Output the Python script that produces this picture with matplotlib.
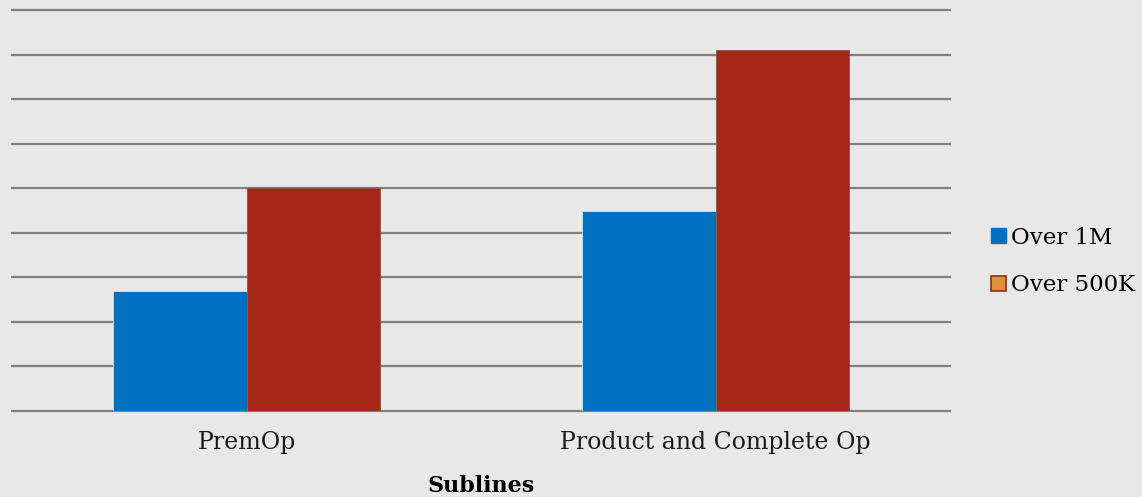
import numpy as np
import matplotlib.pyplot as plt
from matplotlib.patches import Patch

categories = ["PremOp", "Product and Complete Op"]
over_1m = [2.7, 4.48]
over_500k = [5.0, 8.1]

serif = ["DejaVu Serif"]
bg = "#e8e8e8"
fig = plt.figure(figsize=(11.42, 4.97), dpi=100, facecolor=bg)
ax = fig.add_axes([0.0105, 0.173, 0.8215, 0.807], facecolor=bg)

x = np.arange(len(categories))
w = 0.285
ax.bar(x - w / 2, over_1m, w, color="#0070c0", edgecolor="#d8e4ee", linewidth=0.6, zorder=3)
ax.bar(x + w / 2, over_500k, w, color="#a52718", edgecolor="#7a5a55", linewidth=0.6, zorder=3)

ax.set_xlim(-0.5, 1.5)
ax.set_ylim(0, 9)
ax.set_yticks(np.arange(0, 10, 1))
ax.yaxis.grid(True, color="#808080", linewidth=1.6, zorder=0)
for gl in ax.get_ygridlines():
    gl.set_clip_on(False)
ax.tick_params(axis="y", left=False, labelleft=False)
ax.tick_params(axis="x", bottom=False, pad=11)
for s in ax.spines.values():
    s.set_visible(False)
ax.set_xticks(x)
ax.set_xticklabels(categories, fontsize=17, family=serif, color="#1a1a1a")
ax.set_xlabel("Sublines", fontsize=16, family=serif, fontweight="bold", labelpad=15)

handles = [Patch(facecolor="#0070c0", edgecolor="#0070c0", label="Over 1M"),
           Patch(facecolor="#e0923a", edgecolor="#8b2e1a", linewidth=1.2, label="Over 500K")]
fig.legend(handles=handles, loc="center left", bbox_to_anchor=(0.85, 0.474), frameon=False,
           prop={"family": serif, "size": 16.5}, handlelength=0.65, handleheight=0.65,
           handletextpad=0.2, labelspacing=1.12)

fig.savefig("out.png", dpi=100, facecolor=bg)
